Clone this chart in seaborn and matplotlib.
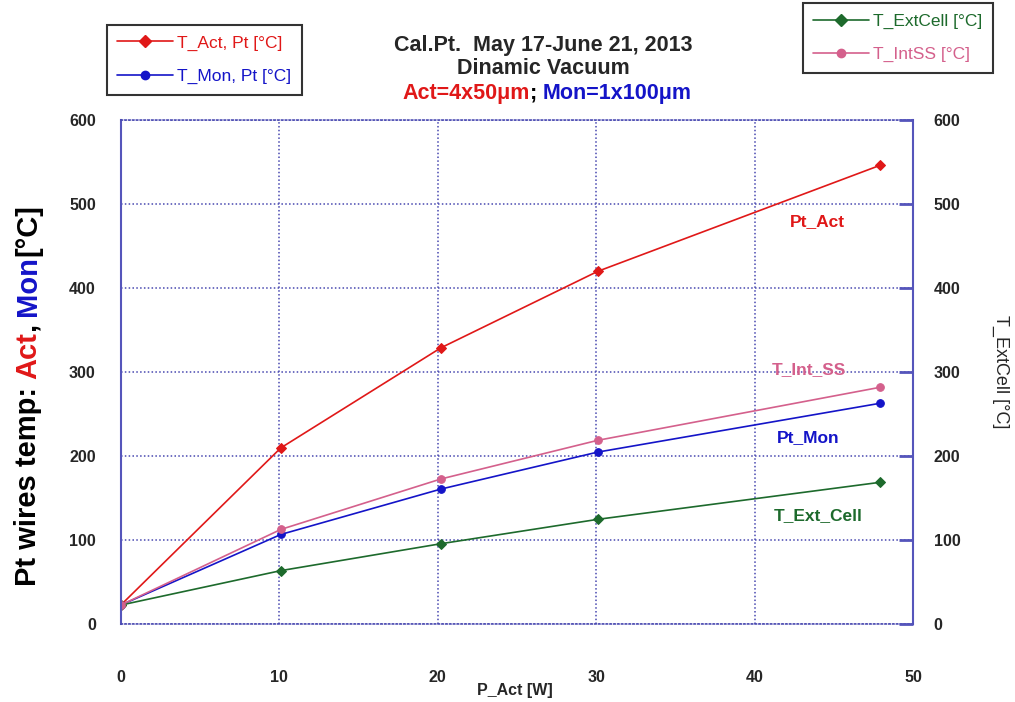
import matplotlib
matplotlib.use("Agg")
import matplotlib.pyplot as plt
import seaborn as sns
import pandas as pd
from matplotlib.lines import Line2D

# data
p_act = [0, 10.1, 20.2, 30.1, 47.9]
t_act = [23, 210, 329, 420, 546]
t_mon = [23, 107, 161, 205, 263]
t_ext = [23, 64, 96, 125, 169]
t_int = [23, 113, 173, 219, 282]

x_ticks = [0, 10, 20, 30, 40, 50]
y_ticks = [0, 100, 200, 300, 400, 500, 600]

RED = '#e01818'
BLUE = '#1414c8'
GREEN = '#1d6a2c'
PINK = '#d4608c'
GRID = '#4848b0'


def set_style():
    sns.set_theme(style="white")
    plt.rcParams['font.family'] = ['Liberation Sans', 'DejaVu Sans']


def multicolor_text(fig, x, y, parts, rotation=0, **kw):
    """Draws consecutive text pieces in different colours, centred on (x, y)."""
    renderer = fig.canvas.get_renderer()
    texts = []
    for s, c in parts:
        t = fig.text(0, 0, s, color=c, rotation=rotation, **kw)
        texts.append(t)
    sizes = []
    for t in texts:
        bb = t.get_window_extent(renderer)
        sizes.append(bb.width if rotation == 0 else bb.height)
    W, H = fig.bbox.width, fig.bbox.height
    total = sum(sizes)
    if rotation == 0:
        pos = x * W - total / 2
        for t, s in zip(texts, sizes):
            t.set_position((pos / W, y))
            t.set_ha('left')
            t.set_va('center')
            pos += s
    else:
        pos = y * H - total / 2
        for t, s in zip(texts, sizes):
            t.set_position((x, pos / H))
            t.set_ha('center')
            t.set_va('bottom')
            pos += s


set_style()
fig = plt.figure(figsize=(10.15, 7.02), dpi=100)
ax = fig.add_axes([0.119, 0.1105, 0.7805, 0.7185])

series = [
    (t_act, RED, 'D', 'T_Act, Pt [°C]'),
    (t_mon, BLUE, 'o', 'T_Mon, Pt [°C]'),
    (t_ext, GREEN, 'D', 'T_ExtCell [°C]'),
    (t_int, PINK, 'o', 'T_IntSS [°C]'),
]
for vals, col, mk, lab in series:
    df = pd.DataFrame({'P': p_act, 'T': vals})
    sns.lineplot(data=df, x='P', y='T', ax=ax, color=col, marker=mk,
                 markersize=5.5, markeredgecolor=col, linewidth=1.2, legend=False)

ax.set_xlim(0, 50)
ax.set_ylim(0, 600)
ax.set_xticks(x_ticks)
ax.set_yticks(y_ticks)
ax.grid(True, color=GRID, linestyle=(0, (1, 1.5)), linewidth=1.1)
ax.tick_params(axis='x', length=0, pad=33, labelsize=11.5)
ax.tick_params(axis='y', length=0, pad=18, labelsize=11.5)
for lab in ax.get_xticklabels() + ax.get_yticklabels():
    lab.set_fontweight('bold')
ax.set_xlabel('')
ax.set_ylabel('')

for side in ['left', 'right']:
    ax.spines[side].set_color('#5555bb')
    ax.spines[side].set_linewidth(1.5)
for side in ['top', 'bottom']:
    ax.spines[side].set_color(GRID)
    ax.spines[side].set_linestyle((0, (1, 1.5)))
    ax.spines[side].set_linewidth(1.1)

ax2 = ax.twinx()
ax2.set_ylim(0, 600)
ax2.set_yticks(y_ticks)
ax2.tick_params(axis='y', direction='in', length=10, width=2, color='#5555bb',
                pad=15, labelsize=11.5)
for lab in ax2.get_yticklabels():
    lab.set_fontweight('bold')
for s in ax2.spines.values():
    s.set_visible(False)
ax2.grid(False)

# in-plot labels
ax.text(44.0, 479, 'Pt_Act', color=RED, fontsize=12.5, fontweight='bold', ha='center', va='center')
ax.text(43.4, 303, 'T_Int_SS', color=PINK, fontsize=12.5, fontweight='bold', ha='center', va='center')
ax.text(43.4, 222, 'Pt_Mon', color=BLUE, fontsize=12.5, fontweight='bold', ha='center', va='center')
ax.text(44.0, 129, 'T_Ext_Cell', color=GREEN, fontsize=12.5, fontweight='bold', ha='center', va='center')

# axis labels
fig.text(0.507, 0.017, 'P_Act [W]', fontsize=11.5, fontweight='bold', ha='center', va='center')
fig.text(0.986, 0.471, 'T_ExtCell [°C]', fontsize=13, rotation=-90, ha='center', va='center')
multicolor_text(fig, 0.028, 0.437,
                [('Pt wires temp: ', 'black'), ('Act', RED), (', ', 'black'),
                 ('Mon', BLUE), ('[°C]', 'black')],
                rotation=90, fontsize=21, fontweight='bold')

# title
fig.text(0.535, 0.935, 'Cal.Pt.  May 17-June 21, 2013', fontsize=15.5, fontweight='bold',
         ha='center', va='center')
fig.text(0.535, 0.902, 'Dinamic Vacuum', fontsize=15.5, fontweight='bold', ha='center', va='center')
multicolor_text(fig, 0.539, 0.867,
                [('Act=4x50μm', RED), ('; ', 'black'), ('Mon=1x100μm', BLUE)],
                fontsize=15.5, fontweight='bold')

# legends
def make_handles(items):
    return [Line2D([0], [0], color=c, marker=m, markersize=6, linewidth=1.2)
            for _, c, m, _ in items]

leg_kw = dict(loc='upper left', fontsize=12.5, frameon=True, fancybox=False,
              edgecolor='black', handlelength=3.2, labelspacing=1.05,
              borderpad=0.6, handletextpad=0.25, borderaxespad=0)

leg1 = fig.legend(make_handles(series[:2]), [s[3] for s in series[:2]],
                  bbox_to_anchor=(0.1054, 0.9644), **leg_kw)
leg1.get_frame().set_linewidth(1.5)
for t, s in zip(leg1.get_texts(), series[:2]):
    t.set_color(s[1])

leg2 = fig.legend(make_handles(series[2:]), [s[3] for s in series[2:]],
                  bbox_to_anchor=(0.791, 0.9957), **leg_kw)
leg2.get_frame().set_linewidth(1.5)
for t, s in zip(leg2.get_texts(), series[2:]):
    t.set_color(s[1])

fig.savefig('out.png', dpi=100)
